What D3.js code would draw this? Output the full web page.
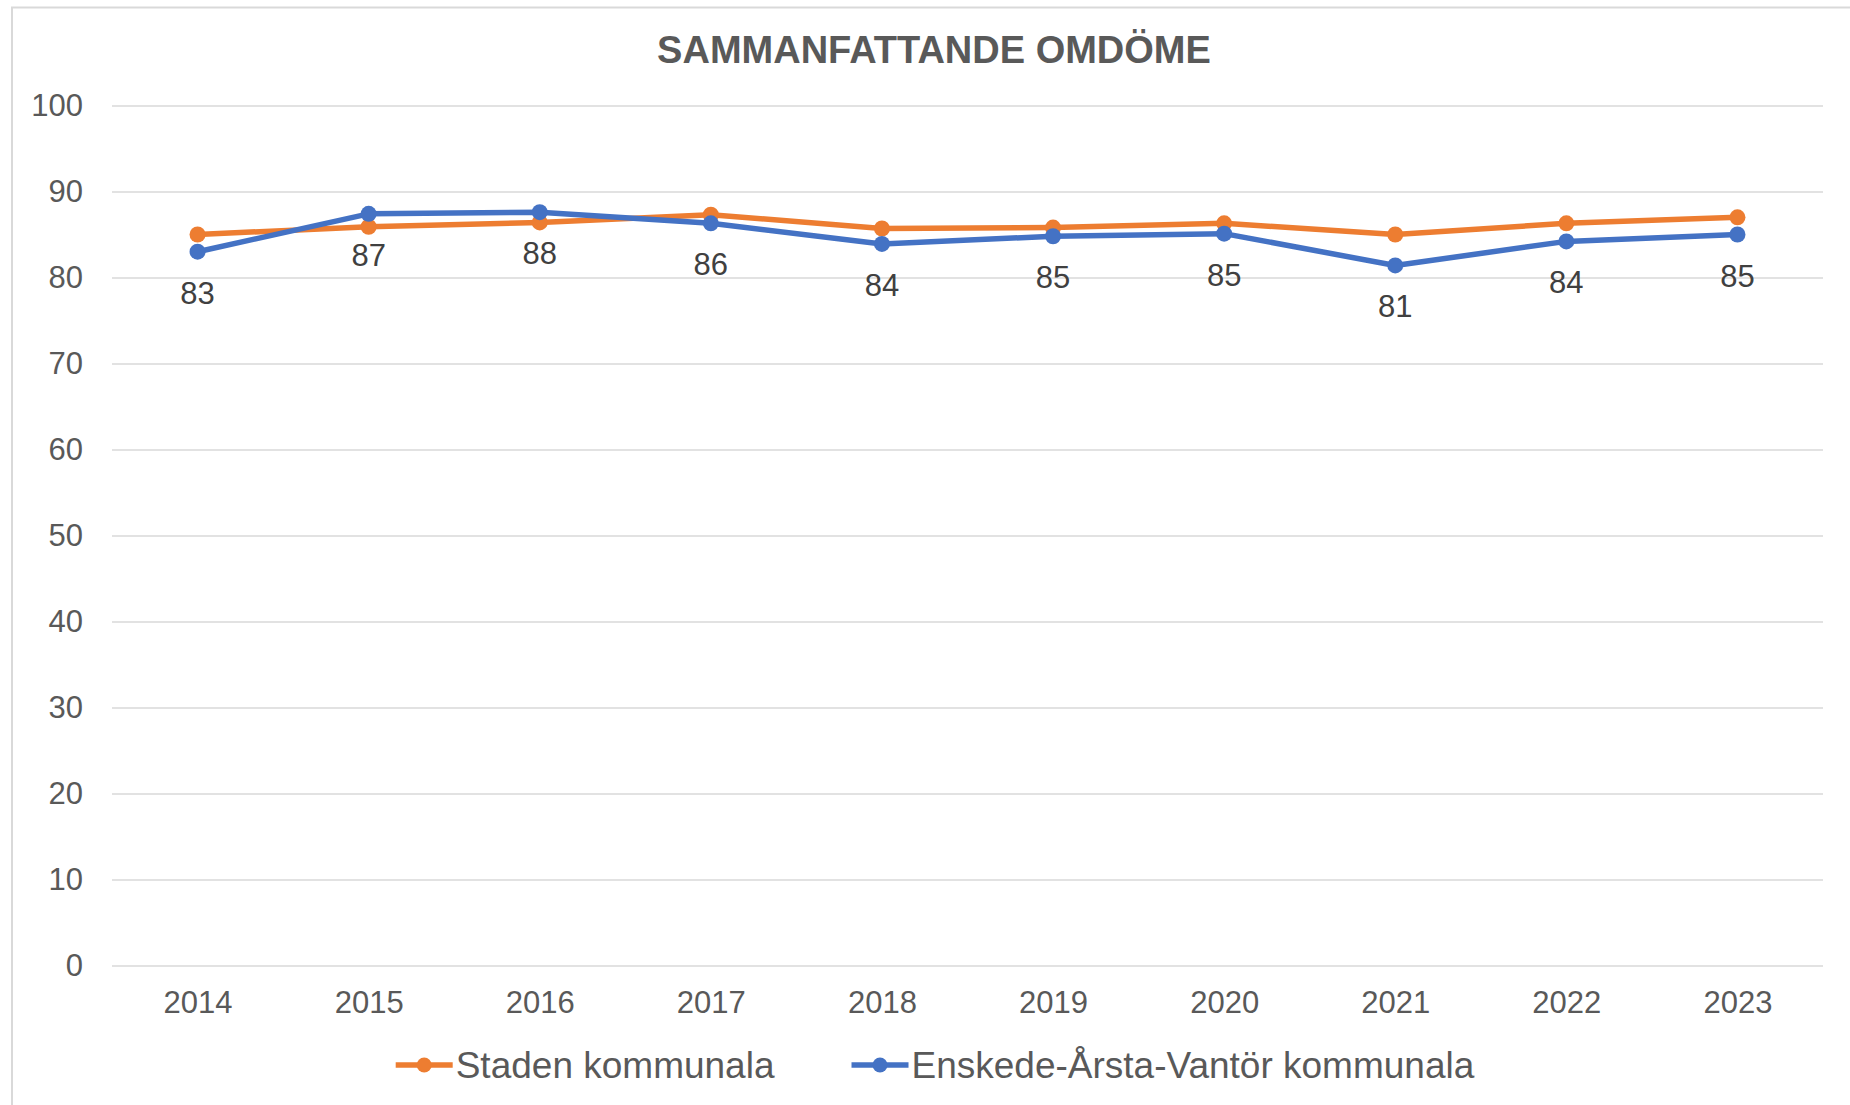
<!DOCTYPE html>
<html>
<head>
<meta charset="utf-8">
<script src="https://cdn.jsdelivr.net/npm/d3@7"></script>
<style>
  body { margin: 0; background: #fff; }
  svg text { font-family: "Liberation Sans", Arial, sans-serif; }
</style>
</head>
<body>
<script>
const years = ['2014', '2015', '2016', '2017', '2018', '2019', '2020', '2021', '2022', '2023']
const staden = [85.0, 85.9, 86.4, 87.3, 85.7, 85.8, 86.3, 85.0, 86.3, 87.0]
const enskede = [83.0, 87.4, 87.6, 86.3, 83.9, 84.8, 85.1, 81.4, 84.2, 85.0]
const yTicks = [0, 10, 20, 30, 40, 50, 60, 70, 80, 90, 100]
const seriesNames = ['Staden kommunala', 'Enskede-Årsta-Vantör kommunala']
const seriesColors = ['#ED7D31', '#4472C4']

const width = 1850, height = 1105
const plot = {left: 112, right: 1823, top: 105.5, bottom: 965.5}

const svg = d3.select('body').append('svg')
    .attr('width', width)
    .attr('height', height)

// chart frame
svg.append('rect')
    .attr('x', 12).attr('y', 7.5)
    .attr('width', width + 20).attr('height', height + 20)
    .attr('fill', '#fff')
    .attr('stroke', '#D9D9D9')
    .attr('stroke-width', 2)

svg.append('text')
    .attr('x', 934)
    .attr('y', 63)
    .attr('text-anchor', 'middle')
    .style('font-size', '38px')
    .style('font-weight', 'bold')
    .attr('fill', '#595959')
    .text('SAMMANFATTANDE OMDÖME')

const xScale = d3.scalePoint()
    .domain(years)
    .range([plot.left, plot.right])
    .padding(0.5)

const yScale = d3.scaleLinear()
    .domain([0, 100])
    .range([plot.bottom, plot.top])

// gridlines + y labels
const yAxis = svg.append('g')
    .attr('transform', 'translate(' + plot.left + ',0)')
    .call(d3.axisLeft(yScale).tickValues(yTicks).tickSize(-(plot.right - plot.left)).tickPadding(29))
yAxis.select('.domain').remove()
yAxis.selectAll('line').attr('stroke', '#D9D9D9').attr('stroke-width', 1.5)
yAxis.selectAll('text')
    .attr('fill', '#595959')
    .style('font-size', '31px')
    .attr('dy', '0.31em')

// x labels
const xAxis = svg.append('g')
    .attr('transform', 'translate(0,' + plot.bottom + ')')
    .call(d3.axisBottom(xScale).tickSize(0).tickPadding(0))
xAxis.select('.domain').remove()
xAxis.selectAll('text')
    .attr('fill', '#595959')
    .style('font-size', '31px')
    .attr('y', 47.5)
    .attr('dy', 0)

const line = d3.line()
    .x((d, i) => xScale(years[i]))
    .y(d => yScale(d))

const allSeries = [staden, enskede]
allSeries.forEach((values, s) => {
  svg.append('path')
      .datum(values)
      .attr('d', line)
      .attr('fill', 'none')
      .attr('stroke', seriesColors[s])
      .attr('stroke-width', 5.5)
      .attr('stroke-linejoin', 'round')

  svg.selectAll('.dot' + s).data(values)
    .enter()
    .append('circle')
      .attr('cx', (d, i) => xScale(years[i]))
      .attr('cy', d => yScale(d))
      .attr('r', 8)
      .attr('fill', seriesColors[s])
})

// data labels below the blue series
svg.selectAll('.label').data(enskede)
  .enter()
  .append('text')
    .attr('x', (d, i) => xScale(years[i]))
    .attr('y', d => yScale(d) + 52)
    .attr('text-anchor', 'middle')
    .style('font-size', '31px')
    .attr('fill', '#404040')
    .text(d => d3.format('.0f')(d))

// legend
const legend = svg.append('g')
let lx = 0
seriesNames.forEach((name, s) => {
  const g = legend.append('g').attr('transform', 'translate(' + lx + ',0)')
  g.append('line')
      .attr('x1', 0).attr('x2', 57)
      .attr('y1', 0).attr('y2', 0)
      .attr('stroke', seriesColors[s])
      .attr('stroke-width', 5.5)
  g.append('circle')
      .attr('cx', 28.5).attr('cy', 0).attr('r', 7.5)
      .attr('fill', seriesColors[s])
  const t = g.append('text')
      .attr('x', 60)
      .attr('y', 12.5)
      .style('font-size', '37px')
      .attr('fill', '#595959')
      .text(name)
  lx += 60 + t.node().getComputedTextLength() + 77
})
const legendWidth = lx - 77
legend.attr('transform', 'translate(' + (935 - legendWidth / 2) + ',1065)')
</script>
</body>
</html>
